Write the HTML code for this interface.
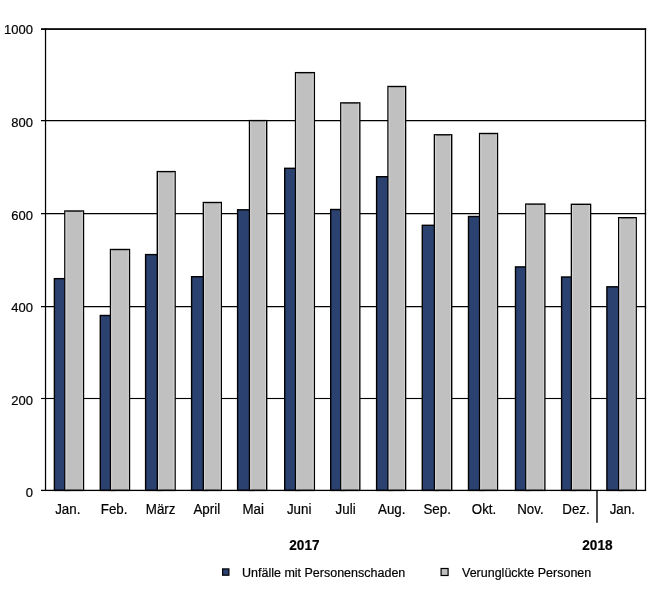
<!DOCTYPE html>
<html><head><meta charset="utf-8"><title>Unfälle mit Personenschaden und Verunglückte Personen</title>
<style>
html,body{margin:0;padding:0;background:#fff;}
svg{display:block;will-change:transform;}
text{stroke:#000;stroke-width:0.2px;}
.x{font-family:"Liberation Sans",Arial,sans-serif;font-size:13.35px;fill:#000;}
.t{font-family:"Liberation Sans",Arial,sans-serif;font-size:13px;fill:#000;}
.b{font-family:"Liberation Sans",Arial,sans-serif;font-size:13.6px;font-weight:bold;fill:#000;}
.l{font-family:"Liberation Sans",Arial,sans-serif;font-size:12.5px;fill:#000;}
</style></head>
<body>
<svg width="668" height="601" viewBox="0 0 668 601">
<rect x="41.0" y="28.2" width="605.15" height="1.75" fill="#000"/>
<rect x="41.0" y="120.0" width="605.15" height="1.25" fill="#000"/>
<rect x="41.0" y="213.0" width="605.15" height="1.25" fill="#000"/>
<rect x="41.0" y="306.0" width="605.15" height="1.25" fill="#000"/>
<rect x="41.0" y="397.95" width="605.15" height="1.1" fill="#000"/>
<rect x="44.9" y="28.2" width="1.25" height="462.20" fill="#000"/>
<rect x="644.8" y="28.2" width="1.3" height="462.20" fill="#000"/>
<rect x="54.4" y="278.65" width="14.45" height="211.75" fill="#2b4271" stroke="#000" stroke-width="1.4"/>
<rect x="64.85" y="211.0" width="18.65" height="279.40" fill="#c0c0c0" stroke="#000" stroke-width="1.4"/>
<rect x="65.55" y="211.70" width="1" height="278.00" fill="#d6d6d6"/>
<rect x="81.80" y="211.70" width="1" height="278.00" fill="#d2d2d2"/>
<rect x="100.3" y="315.5" width="14.20" height="174.90" fill="#2b4271" stroke="#000" stroke-width="1.4"/>
<rect x="110.5" y="249.5" width="19.00" height="240.90" fill="#c0c0c0" stroke="#000" stroke-width="1.4"/>
<rect x="111.20" y="250.20" width="1" height="239.50" fill="#d6d6d6"/>
<rect x="127.80" y="250.20" width="1" height="239.50" fill="#d2d2d2"/>
<rect x="145.6" y="254.6" width="15.70" height="235.80" fill="#2b4271" stroke="#000" stroke-width="1.4"/>
<rect x="157.3" y="171.6" width="17.80" height="318.80" fill="#c0c0c0" stroke="#000" stroke-width="1.4"/>
<rect x="158.00" y="172.30" width="1" height="317.40" fill="#d6d6d6"/>
<rect x="173.40" y="172.30" width="1" height="317.40" fill="#d2d2d2"/>
<rect x="191.6" y="276.7" width="15.75" height="213.70" fill="#2b4271" stroke="#000" stroke-width="1.4"/>
<rect x="203.35" y="202.5" width="17.95" height="287.90" fill="#c0c0c0" stroke="#000" stroke-width="1.4"/>
<rect x="204.05" y="203.20" width="1" height="286.50" fill="#d6d6d6"/>
<rect x="219.60" y="203.20" width="1" height="286.50" fill="#d2d2d2"/>
<rect x="237.6" y="209.8" width="15.90" height="280.60" fill="#2b4271" stroke="#000" stroke-width="1.4"/>
<rect x="249.5" y="120.6" width="17.20" height="369.80" fill="#c0c0c0" stroke="#000" stroke-width="1.4"/>
<rect x="250.20" y="121.30" width="1" height="368.40" fill="#d6d6d6"/>
<rect x="265.00" y="121.30" width="1" height="368.40" fill="#d2d2d2"/>
<rect x="284.7" y="168.3" width="14.85" height="322.10" fill="#2b4271" stroke="#000" stroke-width="1.4"/>
<rect x="295.55" y="72.65" width="18.80" height="417.75" fill="#c0c0c0" stroke="#000" stroke-width="1.4"/>
<rect x="296.25" y="73.35" width="1" height="416.35" fill="#d6d6d6"/>
<rect x="312.65" y="73.35" width="1" height="416.35" fill="#d2d2d2"/>
<rect x="330.7" y="209.5" width="14.10" height="280.90" fill="#2b4271" stroke="#000" stroke-width="1.4"/>
<rect x="340.8" y="102.9" width="19.00" height="387.50" fill="#c0c0c0" stroke="#000" stroke-width="1.4"/>
<rect x="341.50" y="103.60" width="1" height="386.10" fill="#d6d6d6"/>
<rect x="358.10" y="103.60" width="1" height="386.10" fill="#d2d2d2"/>
<rect x="376.6" y="176.7" width="15.40" height="313.70" fill="#2b4271" stroke="#000" stroke-width="1.4"/>
<rect x="388.0" y="86.5" width="17.60" height="403.90" fill="#c0c0c0" stroke="#000" stroke-width="1.4"/>
<rect x="388.70" y="87.20" width="1" height="402.50" fill="#d6d6d6"/>
<rect x="403.90" y="87.20" width="1" height="402.50" fill="#d2d2d2"/>
<rect x="422.3" y="225.3" width="16.10" height="265.10" fill="#2b4271" stroke="#000" stroke-width="1.4"/>
<rect x="434.4" y="134.8" width="17.30" height="355.60" fill="#c0c0c0" stroke="#000" stroke-width="1.4"/>
<rect x="435.10" y="135.50" width="1" height="354.20" fill="#d6d6d6"/>
<rect x="450.00" y="135.50" width="1" height="354.20" fill="#d2d2d2"/>
<rect x="468.5" y="216.5" width="15.10" height="273.90" fill="#2b4271" stroke="#000" stroke-width="1.4"/>
<rect x="479.6" y="133.5" width="17.90" height="356.90" fill="#c0c0c0" stroke="#000" stroke-width="1.4"/>
<rect x="480.30" y="134.20" width="1" height="355.50" fill="#d6d6d6"/>
<rect x="495.80" y="134.20" width="1" height="355.50" fill="#d2d2d2"/>
<rect x="515.5" y="266.9" width="14.30" height="223.50" fill="#2b4271" stroke="#000" stroke-width="1.4"/>
<rect x="525.8" y="204.1" width="19.05" height="286.30" fill="#c0c0c0" stroke="#000" stroke-width="1.4"/>
<rect x="526.50" y="204.80" width="1" height="284.90" fill="#d6d6d6"/>
<rect x="543.15" y="204.80" width="1" height="284.90" fill="#d2d2d2"/>
<rect x="561.6" y="277.0" width="13.80" height="213.40" fill="#2b4271" stroke="#000" stroke-width="1.4"/>
<rect x="571.4" y="204.3" width="19.20" height="286.10" fill="#c0c0c0" stroke="#000" stroke-width="1.4"/>
<rect x="572.10" y="205.00" width="1" height="284.70" fill="#d6d6d6"/>
<rect x="588.90" y="205.00" width="1" height="284.70" fill="#d2d2d2"/>
<rect x="606.9" y="286.8" width="15.80" height="203.60" fill="#2b4271" stroke="#000" stroke-width="1.4"/>
<rect x="618.7" y="217.7" width="17.50" height="272.70" fill="#c0c0c0" stroke="#000" stroke-width="1.4"/>
<rect x="619.40" y="218.40" width="1" height="271.30" fill="#d6d6d6"/>
<rect x="634.50" y="218.40" width="1" height="271.30" fill="#d2d2d2"/>
<rect x="41.0" y="489.75" width="605.15" height="1.3" fill="#000"/>
<rect x="596.3" y="490.40" width="1.4" height="32.40" fill="#000"/>
<text transform="translate(33,34.00) scale(1,1.05)" text-anchor="end" class="t">1000</text>
<text transform="translate(33,126.60) scale(1,1.05)" text-anchor="end" class="t">800</text>
<text transform="translate(33,219.60) scale(1,1.05)" text-anchor="end" class="t">600</text>
<text transform="translate(33,311.70) scale(1,1.05)" text-anchor="end" class="t">400</text>
<text transform="translate(33,404.60) scale(1,1.05)" text-anchor="end" class="t">200</text>
<text transform="translate(33,497.20) scale(1,1.05)" text-anchor="end" class="t">0</text>
<text transform="translate(67.75,514) scale(1,1.05)" text-anchor="middle" class="x">Jan.</text>
<text transform="translate(114.12,514) scale(1,1.05)" text-anchor="middle" class="x">Feb.</text>
<text transform="translate(160.62,514) scale(1,1.05)" text-anchor="middle" class="x">März</text>
<text transform="translate(206.75,514) scale(1,1.05)" text-anchor="middle" class="x">April</text>
<text transform="translate(253.12,514) scale(1,1.05)" text-anchor="middle" class="x">Mai</text>
<text transform="translate(299.12,514) scale(1,1.05)" text-anchor="middle" class="x">Juni</text>
<text transform="translate(345.62,514) scale(1,1.05)" text-anchor="middle" class="x">Juli</text>
<text transform="translate(391.75,514) scale(1,1.05)" text-anchor="middle" class="x">Aug.</text>
<text transform="translate(437.12,514) scale(1,1.05)" text-anchor="middle" class="x">Sep.</text>
<text transform="translate(484.00,514) scale(1,1.05)" text-anchor="middle" class="x">Okt.</text>
<text transform="translate(530.38,514) scale(1,1.05)" text-anchor="middle" class="x">Nov.</text>
<text transform="translate(576.00,514) scale(1,1.05)" text-anchor="middle" class="x">Dez.</text>
<text transform="translate(622.25,514) scale(1,1.05)" text-anchor="middle" class="x">Jan.</text>
<text transform="translate(304.4,549.7) scale(1,1.08)" text-anchor="middle" class="b">2017</text>
<text transform="translate(597.4,549.7) scale(1,1.08)" text-anchor="middle" class="b">2018</text>
<rect x="222.6" y="568.9" width="6.3" height="6.3" fill="#2b4271" stroke="#000" stroke-width="1.2"/>
<text x="242" y="577" class="l">Unfälle mit Personenschaden</text>
<rect x="441.1" y="568.5" width="7.0" height="7.0" fill="#c0c0c0" stroke="#000" stroke-width="1.2"/>
<text x="462" y="577" class="l">Verunglückte Personen</text>
</svg>
</body></html>
